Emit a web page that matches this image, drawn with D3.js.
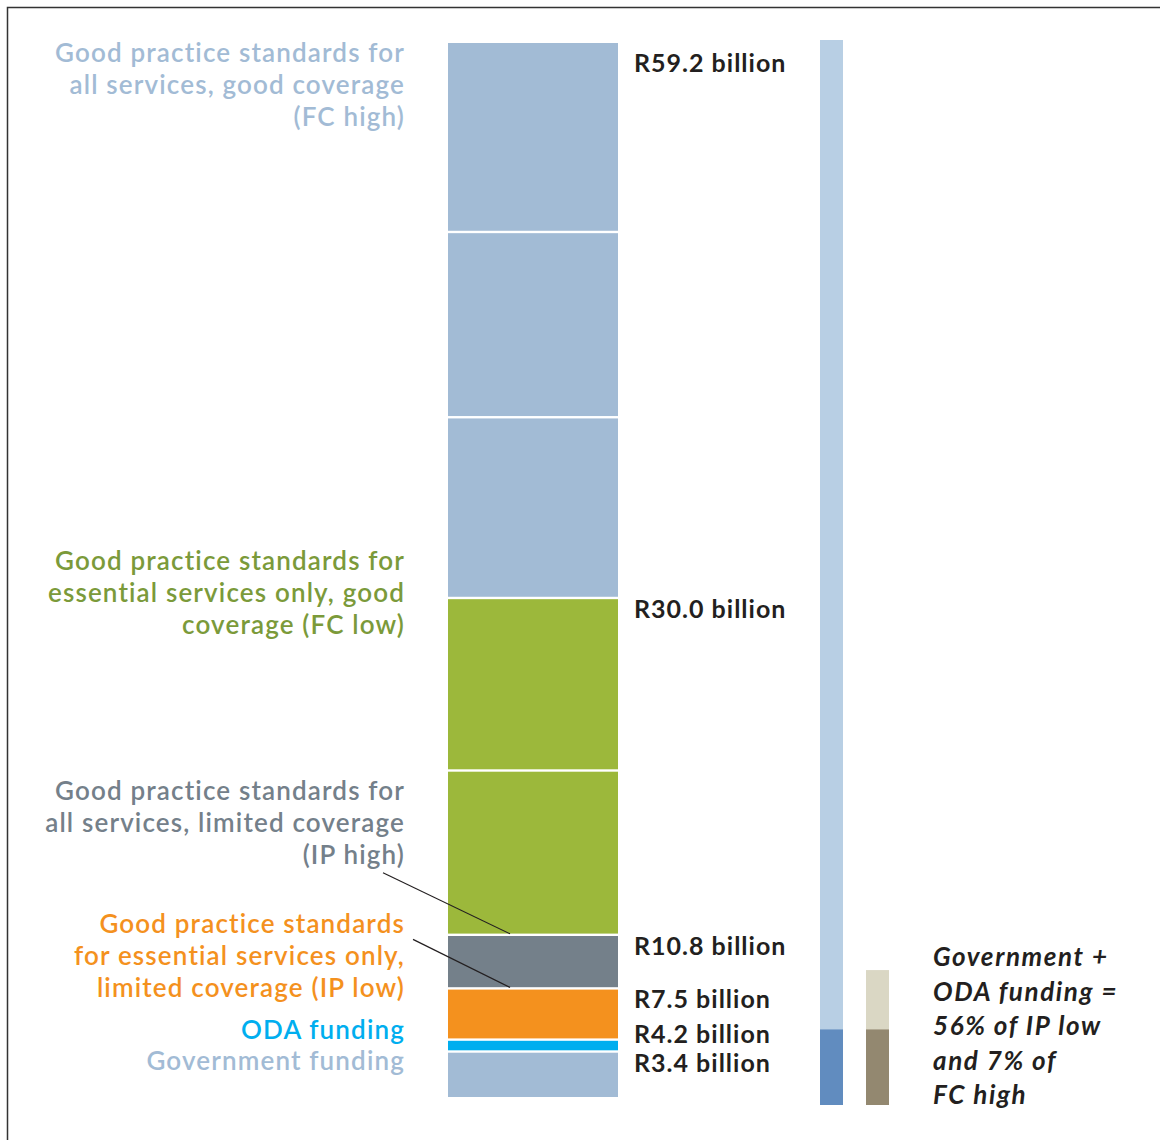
<!DOCTYPE html>
<html>
<head>
<meta charset="utf-8">
<script src="https://cdn.jsdelivr.net/npm/d3@7/dist/d3.min.js"></script>
<style>
  html, body { margin: 0; padding: 0; background: #fff; }
  svg { display: block; font-family: Lato, "Open Sans", sans-serif; }
</style>
</head>
<body>
<svg id="chart" width="1160" height="1140"></svg>
<script>
// cost scenarios, bottom to top (cumulative totals in R billion)
var categories = ["Government funding", "ODA funding", "IP low", "IP high", "FC low", "FC high"];
var totals = [3.4, 4.2, 7.5, 10.8, 30.0, 59.2];
var blockCounts = [1, 1, 1, 1, 2, 3];
var valueLabels = ["R3.4 billion", "R4.2 billion", "R7.5 billion", "R10.8 billion", "R30.0 billion", "R59.2 billion"];
var nameLines = [
    ["Government funding"],
    ["ODA funding"],
    ["Good practice standards", "for essential services only,", "limited coverage (IP low)"],
    ["Good practice standards for", "all services, limited coverage", "(IP high)"],
    ["Good practice standards for", "essential services only, good", "coverage (FC low)"],
    ["Good practice standards for", "all services, good coverage", "(FC high)"]
];
var barColors = ["#a2bbd5", "#00aeef", "#f4911e", "#74808a", "#9cb83b", "#a2bbd5"];
var textColors = ["#a2bbd5", "#00aeef", "#f4911e", "#74808a", "#7b9a3a", "#a2bbd5"];

// comparison bars
var govOdaFunding = 4.2;   // government + ODA
var ipLowTotal = 7.5;
var fcHighTotal = 59.2;
var noteLines = ["Government +", "ODA funding =", "56% of IP low", "and 7% of", "FC high"];

var svg = d3.select("#chart");

// frame (top and left edges)
svg.append("path")
    .attr("d", "M7.5,1140V7.5H1160")
    .attr("fill", "none")
    .attr("stroke", "#333")
    .attr("stroke-width", 1.5);

var y = d3.scalePow().exponent(1.1)
    .domain([0, 59.2])
    .range([1097, 43]);

var barX = 448, barW = 170;

// split each scenario into equal blocks
var blocks = [];
totals.forEach(function(t, i) {
    var lo = i === 0 ? 0 : totals[i - 1];
    var n = blockCounts[i];
    for (var k = 0; k < n; k++) {
        blocks.push({
            lo: lo + (t - lo) * k / n,
            hi: lo + (t - lo) * (k + 1) / n,
            color: barColors[i]
        });
    }
});

svg.append("g").selectAll("rect")
    .data(blocks)
    .enter().append("rect")
    .attr("x", barX)
    .attr("width", barW)
    .attr("y", function(d) { return y(d.hi) + (d.hi === 59.2 ? 0 : 1.2); })
    .attr("height", function(d) {
        var top = y(d.hi) + (d.hi === 59.2 ? 0 : 1.2);
        var bot = y(d.lo) - (d.lo === 0 ? 0 : 1.2);
        return bot - top;
    })
    .attr("fill", function(d) { return d.color; });

// value labels on the right, pushed apart from the bottom up
var labelY = [];
for (var i = 0; i < totals.length; i++) {
    var v = y(totals[i]) + 20;
    if (i > 0) v = Math.min(v, labelY[i - 1] - 29);
    v = Math.max(v, y(59.2) + 29);
    labelY.push(v);
}
svg.append("g").selectAll("text")
    .data(valueLabels)
    .enter().append("text")
    .attr("x", 634)
    .attr("y", function(d, i) { return labelY[i]; })
    .attr("font-size", 25)
    .attr("font-weight", 700)
    .attr("letter-spacing", 1)
    .attr("fill", "#231f20")
    .text(function(d) { return d; });

// scenario names on the left
var nameOffset = [18, -1, -55, -135, -28, 19];
var nameG = svg.append("g");
categories.forEach(function(c, i) {
    var t = nameG.append("text")
        .attr("text-anchor", "end")
        .attr("font-size", 26)
        .attr("font-weight", 600)
        .attr("letter-spacing", 1.15)
        .attr("fill", textColors[i]);
    nameLines[i].forEach(function(line, j) {
        t.append("tspan")
            .attr("x", 405)
            .attr("y", y(totals[i]) + nameOffset[i] + j * 32)
            .text(line);
    });
});

// leader lines for IP high and IP low
var leaders = [
    { idx: 3, x1: 383, dy: 73 },
    { idx: 2, x1: 413, dy: 6 }
];
svg.append("g").selectAll("line")
    .data(leaders)
    .enter().append("line")
    .attr("x1", function(d) { return d.x1; })
    .attr("y1", function(d) { return y(totals[d.idx]) + nameOffset[d.idx] + d.dy; })
    .attr("x2", barX + 62)
    .attr("y2", function(d) { return y(totals[d.idx]) - 1; })
    .attr("stroke", "#231f20")
    .attr("stroke-width", 1.2);

// comparison bars (linear)
var y2 = d3.scaleLinear().domain([0, 59.2]).range([1105, 40]);

svg.append("rect")
    .attr("x", 820).attr("width", 23)
    .attr("y", y2(fcHighTotal))
    .attr("height", y2(0) - y2(fcHighTotal))
    .attr("fill", "#b8cfe4");
svg.append("rect")
    .attr("x", 820).attr("width", 23)
    .attr("y", y2(govOdaFunding))
    .attr("height", y2(0) - y2(govOdaFunding))
    .attr("fill", "#618cbf");
svg.append("rect")
    .attr("x", 866).attr("width", 23)
    .attr("y", y2(ipLowTotal))
    .attr("height", y2(0) - y2(ipLowTotal))
    .attr("fill", "#dad7c4");
svg.append("rect")
    .attr("x", 866).attr("width", 23)
    .attr("y", y2(govOdaFunding))
    .attr("height", y2(0) - y2(govOdaFunding))
    .attr("fill", "#938870");

var note = svg.append("text")
    .attr("font-size", 26)
    .attr("font-style", "italic")
    .attr("font-weight", 700)
    .attr("letter-spacing", 1.6)
    .attr("fill", "#231f20");
noteLines.forEach(function(line, j) {
    note.append("tspan")
        .attr("x", 933)
        .attr("y", 966 + j * 34.5)
        .text(line);
});
</script>
</body>
</html>
